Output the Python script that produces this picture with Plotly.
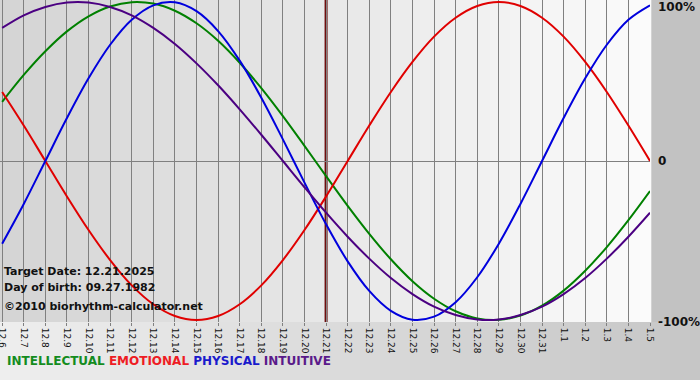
import plotly.graph_objects as go

# ---- data ----
dates = ["12.6", "12.7", "12.8", "12.9", "12.10", "12.11", "12.12", "12.13", "12.14", "12.15",
         "12.16", "12.17", "12.18", "12.19", "12.20", "12.21", "12.22", "12.23", "12.24", "12.25",
         "12.26", "12.27", "12.28", "12.29", "12.30", "12.31", "1.1", "1.2", "1.3", "1.4", "1.5"]

intellectual = [0.372, 0.541, 0.690, 0.815, 0.910, 0.972, 0.999, 0.990, 0.945, 0.866,
                0.756, 0.618, 0.458, 0.282, 0.095, -0.095, -0.282, -0.458, -0.618, -0.756,
                -0.866, -0.945, -0.990, -0.999, -0.972, -0.910, -0.815, -0.690, -0.541, -0.372, -0.189]

emotional = [0.434, 0.223, 0.0, -0.223, -0.434, -0.623, -0.782, -0.901, -0.975, -1.0,
             -0.975, -0.901, -0.782, -0.623, -0.434, -0.223, 0.0, 0.223, 0.434, 0.623,
             0.782, 0.901, 0.975, 1.0, 0.975, 0.901, 0.782, 0.623, 0.434, 0.223, 0.0]

physical = [-0.520, -0.270, 0.0, 0.270, 0.520, 0.731, 0.888, 0.979, 0.998, 0.942,
            0.817, 0.631, 0.398, 0.136, -0.136, -0.398, -0.631, -0.817, -0.942, -0.998,
            -0.979, -0.888, -0.731, -0.520, -0.270, 0.0, 0.270, 0.520, 0.731, 0.888, 0.979]

intuitive = [0.837, 0.916, 0.969, 0.997, 0.997, 0.969, 0.916, 0.837, 0.736, 0.614,
             0.476, 0.325, 0.165, 0.0, -0.165, -0.325, -0.476, -0.614, -0.736, -0.837,
             -0.916, -0.969, -0.997, -0.997, -0.969, -0.916, -0.837, -0.736, -0.614, -0.476, -0.325]

series_names = ["INTELLECTUAL", "EMOTIONAL", "PHYSICAL", "INTUITIVE"]
series_colors = ["#008000", "#e00000", "#0000dd", "#4b0082"]
legend_colors = ["#148c1e", "#ee1c24", "#1a1acc", "#5a1a8a"]

y_tickvals = [1, 0, -1]
y_ticktext = ["100%", "0", "-100%"]

target_label = "12.21"
info_lines = ["Target Date: 12.21.2025", "Day of birth: 09.27.1982", "©2010 biorhythm-calculator.net"]

# ---- layout geometry ----
W, H = 700, 380
ML, MR, MT, MB = 0, 50, 0, 58
PW, PH = W - ML - MR, H - MT - MB


def px_x(px):
    return (px - ML) / PW


def px_y(py):
    return (H - MB - py) / PH


def grey(v):
    v = int(round(v))
    return f"rgb({v},{v},{v})"


fig = go.Figure()

order = [("INTELLECTUAL", intellectual), ("EMOTIONAL", emotional),
         ("PHYSICAL", physical), ("INTUITIVE", intuitive)]
for (name, vals), col in zip(order, series_colors):
    fig.add_trace(go.Scatter(x=dates, y=vals, mode="lines", name=name,
                             line=dict(color=col, width=2, shape="spline", smoothing=1.0),
                             hoverinfo="skip"))

shapes = []
# plot-area gradient
N = 65
for k in range(N):
    v = 212 + (251 - 212) * (k + 0.5) / N
    shapes.append(dict(type="rect", xref="paper", yref="paper", x0=k / N, x1=(k + 1) / N + 0.002,
                       y0=0, y1=1, fillcolor=grey(v), line=dict(width=0), layer="below"))
# bottom strip gradient
M = 70
for k in range(M):
    v = 238 + (198 - 238) * (k + 0.5) / M
    shapes.append(dict(type="rect", xref="paper", yref="paper",
                       x0=px_x(k * W / M), x1=px_x((k + 1) * W / M) + 0.002,
                       y0=px_y(H), y1=0, fillcolor=grey(v), line=dict(width=0), layer="below"))
# target day line
tidx = dates.index(target_label)
shapes.append(dict(type="line", xref="x", yref="paper", x0=tidx, x1=tidx, y0=0, y1=1,
                   line=dict(color="#6e0e0e", width=3), layer="between"))

annotations = []
for i, t in enumerate(info_lines):
    annotations.append(dict(xref="paper", yref="paper", x=px_x(2), y=px_y([271, 287, 306][i]),
                            xanchor="left", yanchor="middle", showarrow=False,
                            text=f"<b>{t}</b>", font=dict(family="DejaVu Sans", size=11, color="#111111")))

legend_html = " ".join(f'<span style="color:{c}">{n}</span>' for n, c in zip(series_names, legend_colors))
annotations.append(dict(xref="paper", yref="paper", x=px_x(5), y=px_y(361), xanchor="left", yanchor="middle",
                        showarrow=False, text=f"<b>{legend_html}</b>",
                        font=dict(family="DejaVu Sans", size=12)))

yshift = {1: -5, 0: 0, -1: -2}
for v, t in zip(y_tickvals, y_ticktext):
    annotations.append(dict(xref="paper", yref="y", x=1, y=v, xanchor="left", yanchor="middle",
                            xshift=6, yshift=yshift[v], showarrow=False, text=f"<b>{t}</b>",
                            font=dict(family="DejaVu Sans", size=12, color="#111111")))

fig.update_layout(
    width=W, height=H,
    margin=dict(l=ML, r=MR, t=MT, b=MB, pad=0, autoexpand=False),
    paper_bgcolor="#c2c2c2",
    plot_bgcolor="rgba(0,0,0,0)",
    showlegend=False,
    shapes=shapes,
    annotations=annotations,
    xaxis=dict(type="category", range=[-0.1, len(dates) - 1], showgrid=True, gridcolor="#808080",
               gridwidth=1, tickangle=90, ticks="outside", ticklen=3, tickcolor="#808080",
               tickfont=dict(family="DejaVu Sans", size=9, color="#111111"), automargin=False,
               showline=False, zeroline=False, fixedrange=True),
    yaxis=dict(range=[-1.0125, 1.0125], showgrid=False, zeroline=True, zerolinecolor="#808080",
               zerolinewidth=1, showticklabels=False, ticks="", showline=False, fixedrange=True,
               automargin=False),
)

fig.write_html("out.html", config={"displayModeBar": False},
               post_script="document.body.style.margin='0px';document.body.style.overflow='hidden';")
